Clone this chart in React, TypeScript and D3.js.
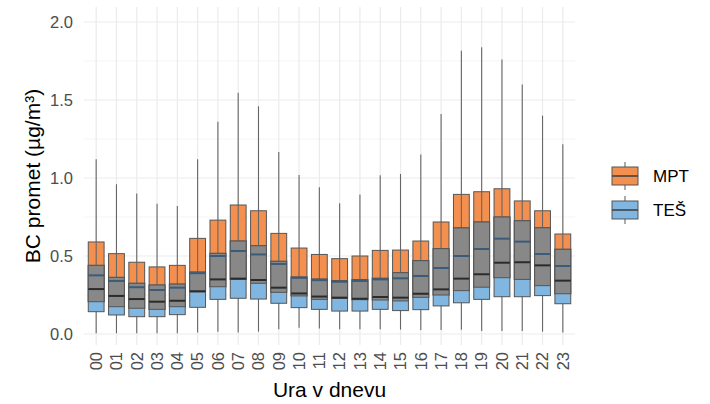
import * as d3 from "d3";

const hours = ["00","01","02","03","04","05","06","07","08","09","10","11","12","13","14","15","16","17","18","19","20","21","22","23"];

// MPT box (orange)
const mptQ1 = [0.207,0.175,0.165,0.158,0.175,0.27,0.303,0.35,0.325,0.267,0.244,0.222,0.228,0.22,0.218,0.212,0.235,0.25,0.278,0.30,0.361,0.35,0.31,0.258];
const mptMed = [0.376,0.34,0.30,0.282,0.297,0.39,0.50,0.532,0.51,0.449,0.36,0.345,0.335,0.34,0.35,0.357,0.372,0.423,0.50,0.545,0.611,0.592,0.513,0.436];
const mptQ3 = [0.59,0.515,0.46,0.43,0.44,0.613,0.73,0.827,0.79,0.645,0.551,0.51,0.483,0.50,0.536,0.538,0.596,0.718,0.895,0.912,0.931,0.853,0.79,0.641];

// TEŠ box (blue)
const tesQ1 = [0.143,0.122,0.111,0.111,0.124,0.171,0.222,0.229,0.224,0.197,0.169,0.158,0.147,0.147,0.158,0.15,0.156,0.18,0.20,0.222,0.239,0.239,0.246,0.194];
const tesMed = [0.288,0.244,0.224,0.207,0.213,0.274,0.35,0.355,0.346,0.297,0.26,0.24,0.233,0.226,0.237,0.233,0.258,0.286,0.355,0.383,0.457,0.46,0.44,0.342];
const tesQ3 = [0.44,0.363,0.325,0.314,0.32,0.397,0.517,0.596,0.566,0.466,0.365,0.352,0.342,0.348,0.357,0.393,0.47,0.547,0.68,0.718,0.75,0.726,0.681,0.543];

// whiskers (combined)
const whiskerHi = [1.12,0.96,0.90,0.835,0.82,1.12,1.36,1.547,1.46,1.167,1.02,0.94,0.838,0.895,1.017,1.026,1.15,1.41,1.816,1.838,1.76,1.60,1.40,1.216];
const whiskerLo = [0.005,0.005,0.005,0.005,0.005,0.01,0.015,0.01,0.015,0.03,0.04,0.035,0.03,0.03,0.03,0.028,0.025,0.025,0.028,0.02,0.02,0.02,0.015,0.01];

const yTicks = [0, 0.5, 1.0, 1.5, 2.0];
const yMinor = [0.25, 0.75, 1.25, 1.75];

const width = 710;
const height = 404;
const panel = { left: 84, right: 575, top: 7, bottom: 345 };

const orange = "#F4904F";
const blue = "#80B6E0";
const grey = "#888888";
const edge = "#555555";
const font = "'Liberation Sans', Arial, sans-serif";

export default function App() {
  const x = d3.scalePoint<string>().domain(hours).range([panel.left, panel.right]).padding(0.6);
  const y = d3.scaleLinear([0, 2], [334, 22]);
  const bw = x.step() * 0.78;

  return (
    <div style={{ position: "absolute", left: 0, top: 0 }}>
      <svg width={width} height={height} style={{ display: "block", background: "white" }}>
        {/* grid */}
        <g>
          {yMinor.map((v) => (
            <line key={"m" + v} x1={panel.left} x2={panel.right} y1={y(v)} y2={y(v)} stroke="#F2F2F2" strokeWidth={0.8} />
          ))}
          {yTicks.map((v) => (
            <line key={"M" + v} x1={panel.left} x2={panel.right} y1={y(v)} y2={y(v)} stroke="#EBEBEB" strokeWidth={1.2} />
          ))}
          {hours.map((h) => (
            <line key={"v" + h} x1={x(h)} x2={x(h)} y1={panel.top} y2={panel.bottom} stroke="#EBEBEB" strokeWidth={1.2} />
          ))}
        </g>

        {/* boxes */}
        {hours.map((h, i) => {
          const cx = x(h)!;
          const lo = Math.max(mptQ1[i], tesQ1[i]);
          const hi = Math.min(mptQ3[i], tesQ3[i]);
          return (
            <g key={h}>
              <line x1={cx} x2={cx} y1={y(whiskerLo[i])} y2={y(whiskerHi[i])} stroke="#666" strokeWidth={1.1} />
              <rect x={cx - bw / 2} width={bw} y={y(mptQ3[i])} height={y(mptQ1[i]) - y(mptQ3[i])} fill={orange} stroke={edge} strokeWidth={1} />
              <line x1={cx} x2={cx} y1={y(tesQ3[i])} y2={y(mptQ3[i])} stroke="#666" strokeWidth={1.1} />
              <rect x={cx - bw / 2} width={bw} y={y(tesQ3[i])} height={y(tesQ1[i]) - y(tesQ3[i])} fill={blue} stroke={edge} strokeWidth={1} />
              <rect x={cx - bw / 2} width={bw} y={y(hi)} height={y(lo) - y(hi)} fill={grey} stroke={edge} strokeWidth={1} />
              <line x1={cx - bw / 2} x2={cx + bw / 2} y1={y(mptMed[i])} y2={y(mptMed[i])} stroke="#3A5B7A" strokeWidth={2} />
              <line x1={cx - bw / 2} x2={cx + bw / 2} y1={y(tesMed[i])} y2={y(tesMed[i])} stroke="#2B2B2B" strokeWidth={2} />
            </g>
          );
        })}

        {/* y axis labels */}
        {yTicks.map((v) => (
          <text key={"yt" + v} x={73} y={y(v)} dy="0.35em" textAnchor="end" fontFamily={font} fontSize={16.5} fill="#4D4D4D">
            {v.toFixed(1)}
          </text>
        ))}

        {/* x axis labels */}
        {hours.map((h) => (
          <text key={"xt" + h} transform={`translate(${x(h)},352) rotate(-90)`} dy="0.35em" textAnchor="end" fontFamily={font} fontSize={16.5} fill="#4D4D4D">
            {h}
          </text>
        ))}

        {/* titles */}
        <text x={(panel.left + panel.right) / 2} y={397} textAnchor="middle" fontFamily={font} fontSize={21} fill="#000">
          Ura v dnevu
        </text>
        <text transform={`translate(40,${(panel.top + panel.bottom) / 2}) rotate(-90)`} textAnchor="middle" fontFamily={font} fontSize={21} fill="#000">
          BC promet (µg/m³)
        </text>

        {/* legend */}
        {[{ label: "MPT", fill: orange, cy: 176 }, { label: "TEŠ", fill: blue, cy: 210 }].map((d) => (
          <g key={d.label}>
            <line x1={625} x2={625} y1={d.cy - 14} y2={d.cy + 14} stroke="#666" strokeWidth={1.1} />
            <rect x={612} y={d.cy - 9} width={26} height={18} fill={d.fill} stroke={edge} strokeWidth={1} />
            <line x1={612} x2={638} y1={d.cy} y2={d.cy} stroke="#444" strokeWidth={1.6} />
            <text x={653} y={d.cy} dy="0.35em" fontFamily={font} fontSize={17} fill="#000">
              {d.label}
            </text>
          </g>
        ))}
      </svg>
    </div>
  );
}
